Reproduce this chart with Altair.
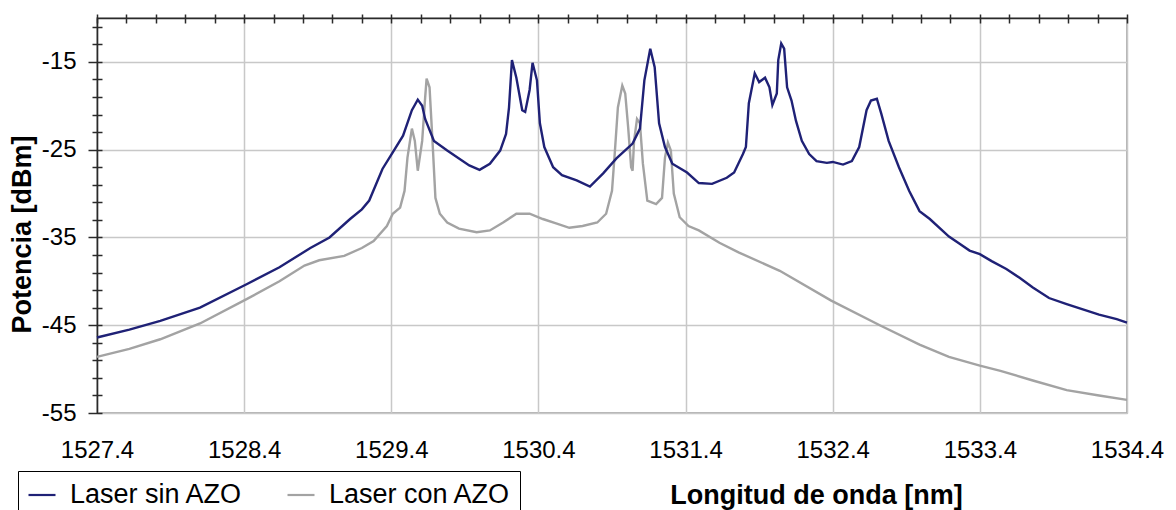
import altair as alt
import pandas as pd

# Espectro del láser sin AZO (longitud de onda en nm, potencia en dBm)
sin_wl = [1527.40, 1527.62, 1527.83, 1528.10, 1528.42, 1528.64, 1528.85, 1528.98,
          1529.12, 1529.20, 1529.25, 1529.34, 1529.41, 1529.48, 1529.54, 1529.58,
          1529.61, 1529.63, 1529.69, 1529.78, 1529.86, 1529.93, 1530.00, 1530.07,
          1530.14, 1530.18, 1530.20, 1530.22, 1530.25, 1530.29, 1530.31, 1530.34,
          1530.36, 1530.39, 1530.41, 1530.44, 1530.50, 1530.56, 1530.66, 1530.75,
          1530.84, 1530.93, 1531.04, 1531.09, 1531.12, 1531.16, 1531.19, 1531.22,
          1531.26, 1531.31, 1531.41, 1531.49, 1531.58, 1531.68, 1531.73, 1531.79,
          1531.81, 1531.83, 1531.87, 1531.90, 1531.94, 1531.97, 1531.99, 1532.02,
          1532.03, 1532.05, 1532.07, 1532.09, 1532.12, 1532.15, 1532.19, 1532.24,
          1532.29, 1532.36, 1532.40, 1532.47, 1532.53, 1532.58, 1532.63, 1532.66,
          1532.70, 1532.73, 1532.78, 1532.85, 1532.92, 1532.99, 1533.06, 1533.19,
          1533.26, 1533.33, 1533.40, 1533.48, 1533.58, 1533.67, 1533.76, 1533.87,
          1533.99, 1534.10, 1534.21, 1534.33, 1534.40]
sin_dbm = [-46.4, -45.5, -44.5, -43.0, -40.3, -38.4, -36.2, -35.0,
           -32.9, -31.8, -30.8, -27.2, -25.3, -23.4, -20.5, -19.3,
           -20.0, -21.5, -24.0, -25.1, -26.0, -26.8, -27.3, -26.6,
           -25.1, -23.2, -20.2, -14.8, -16.8, -20.5, -20.7, -18.2,
           -15.1, -17.1, -22.0, -24.7, -27.0, -27.9, -28.5, -29.2,
           -27.7, -26.0, -24.3, -22.6, -17.1, -13.5, -15.6, -22.0,
           -24.7, -26.6, -27.6, -28.8, -28.9, -28.2, -27.6, -25.5,
           -24.7, -19.7, -16.3, -17.3, -16.8, -17.9, -19.9, -18.6,
           -14.8, -12.9, -13.5, -17.9, -19.4, -21.7, -24.0, -25.5,
           -26.3, -26.5, -26.4, -26.7, -26.3, -24.7, -20.5, -19.4,
           -19.2, -20.9, -24.0, -27.0, -29.7, -32.0, -32.9, -34.9,
           -35.7, -36.5, -36.9, -37.7, -38.6, -39.6, -40.7, -41.9,
           -42.6, -43.2, -43.8, -44.3, -44.7]

# Espectro del láser con AZO
con_wl = [1527.40, 1527.62, 1527.83, 1528.10, 1528.42, 1528.64, 1528.81, 1528.91,
          1529.08, 1529.20, 1529.28, 1529.37, 1529.41, 1529.46, 1529.49, 1529.51,
          1529.54, 1529.56, 1529.58, 1529.61, 1529.63, 1529.64, 1529.66, 1529.68,
          1529.70, 1529.73, 1529.78, 1529.86, 1529.98, 1530.07, 1530.16, 1530.25,
          1530.34, 1530.43, 1530.52, 1530.61, 1530.70, 1530.80, 1530.86, 1530.90,
          1530.92, 1530.94, 1530.97, 1530.99, 1531.01, 1531.03, 1531.04, 1531.05,
          1531.07, 1531.09, 1531.11, 1531.14, 1531.20, 1531.24, 1531.26, 1531.28,
          1531.30, 1531.32, 1531.36, 1531.42, 1531.49, 1531.63, 1531.76, 1532.04,
          1532.39, 1532.72, 1532.99, 1533.19, 1533.40, 1533.54, 1533.76, 1533.99,
          1534.21, 1534.40]
con_dbm = [-48.6, -47.7, -46.6, -44.8, -42.0, -40.0, -38.2, -37.6,
           -37.1, -36.2, -35.4, -33.7, -32.3, -31.6, -29.7, -25.9,
           -22.6, -24.0, -27.4, -24.0, -19.1, -16.9, -17.9, -24.0,
           -30.5, -32.3, -33.3, -34.0, -34.4, -34.2, -33.3, -32.3,
           -32.3, -32.9, -33.4, -33.9, -33.7, -33.3, -32.3, -29.7,
           -25.1, -20.2, -17.7, -18.6, -22.5, -27.0, -27.4, -24.0,
           -21.5, -22.0, -26.6, -30.8, -31.2, -30.5, -25.9, -24.2,
           -25.1, -30.0, -32.7, -33.7, -34.2, -35.6, -36.7, -38.8,
           -42.2, -45.0, -47.2, -48.6, -49.6, -50.2, -51.3, -52.4,
           -53.0, -53.5]

series = ["Laser sin AZO", "Laser con AZO"]
series_colors = ["#1f2176", "#a3a3a3"]

x_labels = [1527.4, 1528.4, 1529.4, 1530.4, 1531.4, 1532.4, 1533.4, 1534.4]
x_minor = [round(1527.4 + 0.2 * k, 1) for k in range(36)]
y_labels = [-55, -45, -35, -25, -15]
y_minor = list(range(-55, -10, 2))

df_sin = pd.DataFrame({"wl": sin_wl, "dbm": sin_dbm, "serie": series[0]})
df_con = pd.DataFrame({"wl": con_wl, "dbm": con_dbm, "serie": series[1]})
df_sin["idx"] = range(len(df_sin))
df_con["idx"] = range(len(df_con))
df_all = pd.concat([df_sin, df_con], ignore_index=True)

FONT = "Liberation Sans"
AXIS_DARK = "#2a2a2a"
GRID = "#c8c8c8"

x_scale = alt.Scale(domain=[1527.4, 1534.4], nice=False, zero=False)
y_scale = alt.Scale(domain=[-55, -10], nice=False, zero=False)

legend = alt.Legend(
    title=None, orient="none", direction="horizontal",
    legendX=-79, legendY=453,
    strokeColor="black", fillColor="white", padding=9,
    symbolType="stroke", symbolSize=729, symbolStrokeWidth=2.2,
    labelFont=FONT, labelFontSize=27, labelColor="black", labelLimit=0,
    labelOffset=13, columnPadding=40,
)
color = alt.Color("serie:N", scale=alt.Scale(domain=series, range=series_colors), legend=legend)

# Eje inferior y eje izquierdo con etiquetas, rejilla y títulos
x_axis_main = alt.Axis(
    values=x_labels, format=".1f", domain=False, ticks=False, tickSize=0,
    labelFont=FONT, labelFontSize=24, labelColor="black", labelPadding=25,
    labelFlush=False, labelOverlap=False,
    grid=True, gridColor=GRID, gridWidth=1.5,
    title="Longitud de onda [nm]", titleFont=FONT, titleFontSize=27,
    titleFontWeight="bold", titleColor="black",
    titleX=719, titleY=90, titleAlign="center", titleBaseline="alphabetic",
)
y_axis_main = alt.Axis(
    values=y_labels, labelExpr="toString(datum.value)",
    domain=True, domainColor=AXIS_DARK, domainWidth=1.5,
    ticks=False, tickSize=0,
    labelFont=FONT, labelFontSize=24, labelColor="black", labelPadding=21,
    labelFlush=False, labelOverlap=False,
    grid=True, gridColor=GRID, gridWidth=1.5,
    title="Potencia [dBm]", titleFont=FONT, titleFontSize=27,
    titleFontWeight="bold", titleColor="black",
    titleX=-75, titleY=216, titleAngle=-90, titleAlign="center", titleBaseline="middle",
)

con_line = alt.Chart(df_con).mark_line(strokeWidth=2.4).encode(
    x=alt.X("wl:Q", scale=x_scale, axis=x_axis_main),
    y=alt.Y("dbm:Q", scale=y_scale, axis=y_axis_main),
    color=color,
    order="idx:Q",
)

sin_line = alt.Chart(df_sin).mark_line(strokeWidth=2.4).encode(
    x=alt.X("wl:Q", scale=x_scale, axis=None),
    y=alt.Y("dbm:Q", scale=y_scale, axis=None),
    color=color,
    order="idx:Q",
)

# Marcas de división que cruzan los ejes superior e izquierdo
tick_layer = alt.Chart(df_all).mark_line(opacity=0).encode(
    x=alt.X("wl:Q", scale=x_scale, axis=alt.Axis(
        orient="top", offset=-5, values=x_minor, domain=False, labels=False,
        grid=False, ticks=True, tickSize=9, tickColor=AXIS_DARK, tickWidth=1.5,
        title=None)),
    y=alt.Y("dbm:Q", scale=y_scale, axis=alt.Axis(
        orient="left", offset=-5, values=y_minor, domain=False, labels=False,
        grid=False, ticks=True,
        tickSize={"condition": {"test": "datum.value % 10 == -5", "value": 14}, "value": 10},
        tickColor=AXIS_DARK, tickWidth=1.5, title=None)),
    detail="serie:N",
)

# Línea superior del marco
top_layer = alt.Chart(df_all).mark_line(opacity=0).encode(
    x=alt.X("wl:Q", scale=x_scale, axis=alt.Axis(
        orient="top", domain=True, domainColor=AXIS_DARK, domainWidth=1.5,
        labels=False, ticks=False, grid=False, title=None)),
    y=alt.Y("dbm:Q", scale=y_scale, axis=None),
    detail="serie:N",
)

chart = (
    alt.layer(con_line, sin_line, tick_layer, top_layer)
    .resolve_axis(x="independent", y="independent")
    .properties(
        width=1030, height=395,
        padding={"left": 97, "top": 18, "right": 49, "bottom": 97},
        autosize="none", background="white",
    )
    .configure_view(stroke="#9a9a9a", strokeWidth=1.5)
)

chart.save("out.html", embed_options={"renderer": "svg", "actions": False})
